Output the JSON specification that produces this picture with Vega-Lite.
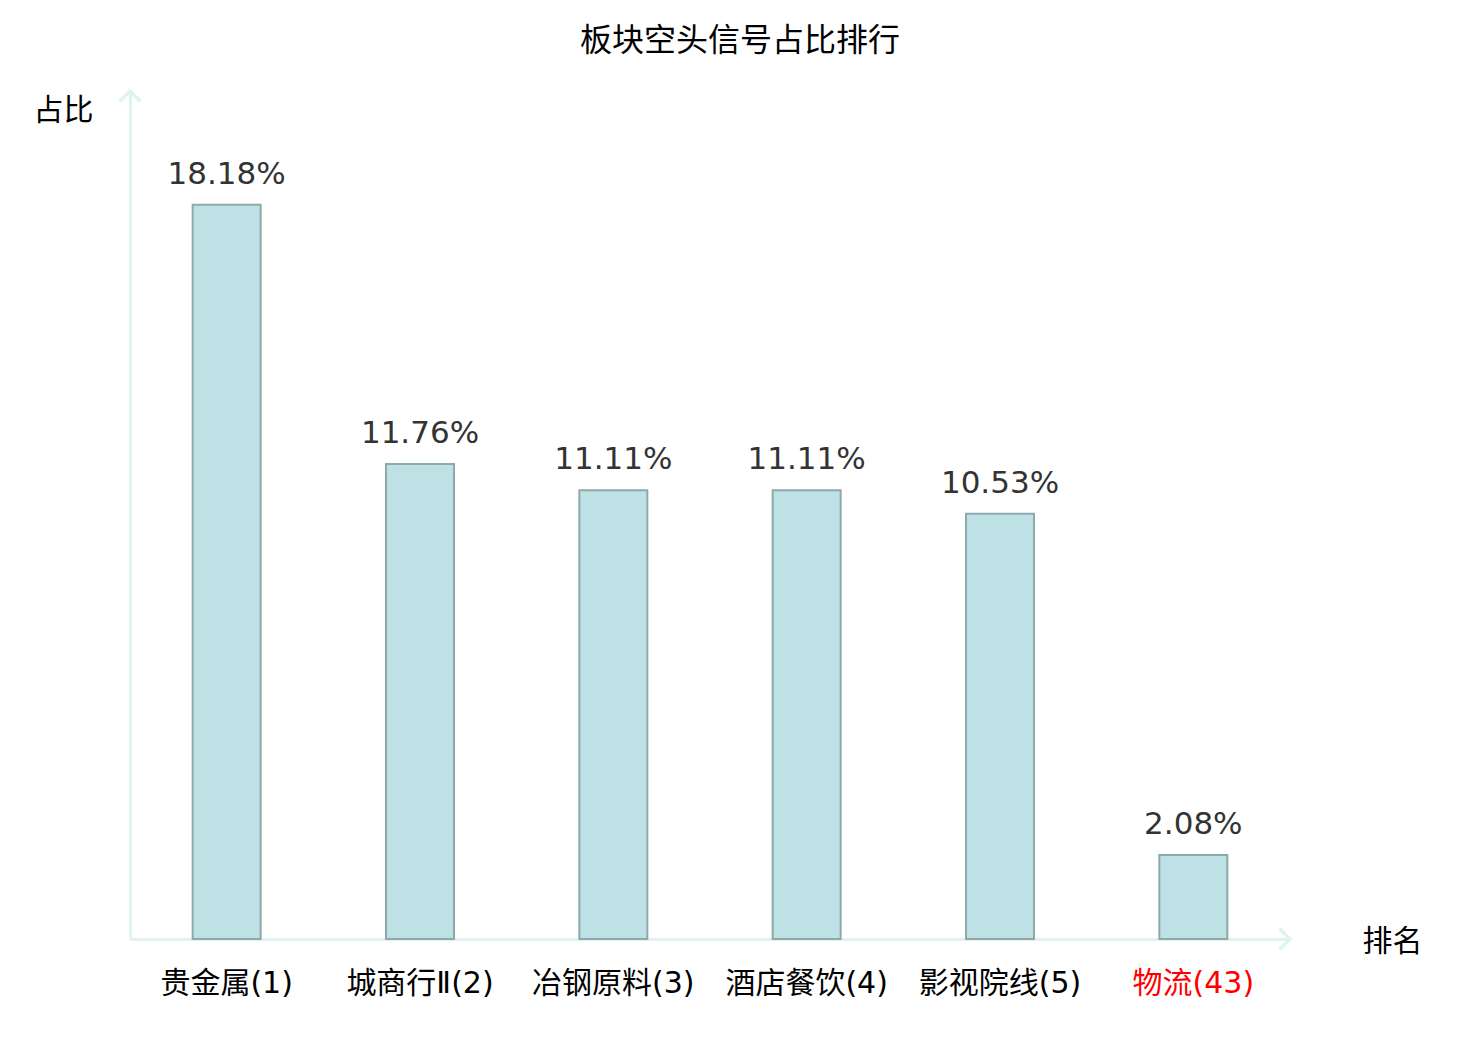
{
  "$schema": "https://vega.github.io/schema/vega-lite/v6.json",
  "width": 1160,
  "height": 848,
  "autosize": {"type": "none"},
  "padding": {"left": 130, "top": 91, "right": 190, "bottom": 101},
  "background": "white",
  "title": {
    "text": "板块空头信号占比排行",
    "font": "Noto Sans CJK SC",
    "fontSize": 32,
    "fontWeight": "normal",
    "color": "black",
    "anchor": "middle",
    "dx": 30,
    "baseline": "middle",
    "offset": 11
  },
  "config": {"view": {"stroke": null}},
  "data": {
    "values": [
      {"sector": "贵金属(1)", "pct": 18.18, "label": "18.18%"},
      {"sector": "城商行Ⅱ(2)", "pct": 11.76, "label": "11.76%"},
      {"sector": "冶钢原料(3)", "pct": 11.11, "label": "11.11%"},
      {"sector": "酒店餐饮(4)", "pct": 11.11, "label": "11.11%"},
      {"sector": "影视院线(5)", "pct": 10.53, "label": "10.53%"},
      {"sector": "物流(43)", "pct": 2.08, "label": "2.08%"}
    ]
  },
  "layer": [
    {
      "mark": {"type": "bar", "size": 68, "fill": "#bde1e4", "stroke": "#8ea9aa", "strokeWidth": 2},
      "encoding": {
        "x": {
          "field": "sector",
          "type": "nominal",
          "sort": null,
          "scale": {"paddingInner": 0, "paddingOuter": 0},
          "axis": {
            "title": "排名",
            "titleFont": "Noto Sans CJK SC",
            "titleFontSize": 30,
            "titleFontWeight": "normal",
            "titleColor": "black",
            "titleAngle": 0,
            "titleAlign": "center",
            "titleBaseline": "middle",
            "titleX": 1262,
            "titleY": 2,
            "labelAngle": 0,
            "labelFont": "DejaVu Sans, Noto Sans CJK SC",
            "labelFontSize": 30,
            "labelPadding": 29,
            "labelColor": {"condition": {"test": "datum.label == '物流(43)'", "value": "#ff0000"}, "value": "black"},
            "ticks": false,
            "domainColor": "#e0f3f0",
            "domainWidth": 3,
            "grid": false
          }
        },
        "y": {
          "field": "pct",
          "type": "quantitative",
          "scale": {"domain": [0, 21], "nice": false},
          "axis": {
            "title": "占比",
            "titleFont": "Noto Sans CJK SC",
            "titleFontSize": 30,
            "titleFontWeight": "normal",
            "titleColor": "black",
            "titleAngle": 0,
            "titleAlign": "center",
            "titleBaseline": "middle",
            "titleX": -67,
            "titleY": 19,
            "labels": false,
            "ticks": false,
            "grid": false,
            "domainColor": "#e0f3f0",
            "domainWidth": 3
          }
        }
      }
    },
    {
      "mark": {"type": "text", "font": "DejaVu Sans", "fontSize": 31, "color": "#333333", "baseline": "middle", "dy": -30},
      "encoding": {
        "x": {"field": "sector", "type": "nominal", "sort": null},
        "y": {"field": "pct", "type": "quantitative"},
        "text": {"field": "label", "type": "nominal"}
      }
    },
    {
      "data": {"values": [{"k": "y"}]},
      "mark": {"type": "point", "shape": "M-1,1L0,0L1,1", "size": 450, "filled": false, "stroke": "#e0f3f0", "strokeWidth": 3.5, "opacity": 1},
      "encoding": {
        "x": {"value": 0},
        "y": {"datum": 21, "type": "quantitative"}
      }
    },
    {
      "data": {"values": [{"k": "x"}]},
      "mark": {"type": "point", "shape": "M-1,-1L0,0L-1,1", "size": 450, "filled": false, "stroke": "#e0f3f0", "strokeWidth": 3.5, "opacity": 1},
      "encoding": {
        "x": {"value": {"expr": "width"}},
        "y": {"datum": 0, "type": "quantitative"}
      }
    }
  ]
}
